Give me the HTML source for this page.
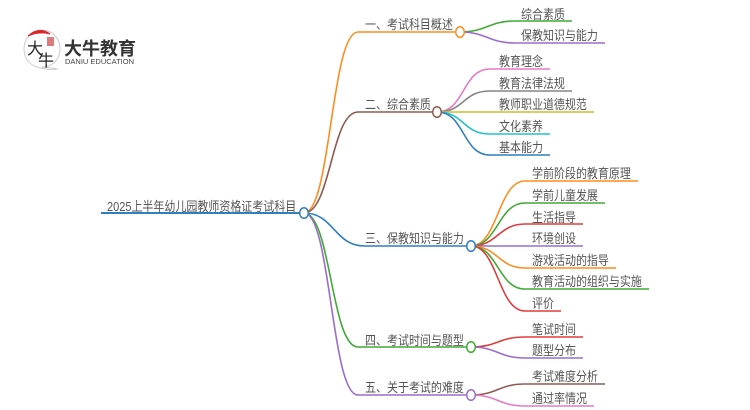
<!DOCTYPE html>
<html><head><meta charset="utf-8"><style>
html,body{margin:0;padding:0;background:#fff}
svg{display:block}
text{font-family:"Liberation Sans","Noto Sans CJK SC",sans-serif;font-size:11px;fill:#555}
path{fill:none;stroke-width:1.6}
ellipse{fill:#fff;stroke-width:1.5}
</style></head><body>
<svg width="750" height="410" viewBox="0 0 750 410" xmlns="http://www.w3.org/2000/svg">
<!-- logo -->
<path d="M37 67 C28 64 24 57 24 49 C24 38 32 30 42 30 C52 30 60 38 60 49 C60 60 52 67 42 67 C46 68 52 67 57 69 C52 70 44 69 37 67 Z" style="stroke:#ccc;stroke-width:1"/>
<path d="M28 36 Q39 26 50 34 Q39 31 28 36 Z" style="fill:#d9262c;stroke:#d9262c;stroke-width:1"/>
<text x="27" y="54" style="font-size:16px;fill:#222">大</text>
<text x="38" y="66" style="font-size:16px;fill:#222">牛</text>
<rect x="47" y="37" width="7" height="9" fill="#dd7a7a"/>
<text x="64" y="55" style="font-size:18px;font-weight:bold;fill:#333">大牛教育</text>
<text x="65" y="64" textLength="69" style="font-size:7.5px;fill:#444">DANIU EDUCATION</text>

<!-- connectors root -->
<path d="M101 213H304" style="stroke:#2f7fc1;stroke-width:2"/>
<path d="M304 213C331 213 331 32 358 32H460" style="stroke:#ff8c1f"/>
<path d="M304 213C331 213 331 112 358 112H437" style="stroke:#8e5a4f"/>
<path d="M304 213C334 213 334 246 365 246H471" style="stroke:#2f7fc1"/>
<path d="M304 213C331 213 331 347 358 347H471" style="stroke:#3fab35"/>
<path d="M304 213C331 213 331 395 358 395H471" style="stroke:#9c6cc9"/>
<!-- branch 1 -->
<path d="M460 32C487 32 488 21 515 21H572" style="stroke:#3fab35"/>
<path d="M460 32C487 32 488 43 515 43H605" style="stroke:#9c6cc9"/>
<!-- branch 2 -->
<path d="M437 112C465 112 462 69 490 69H550" style="stroke:#e878c8"/>
<path d="M437 112C465 112 462 91 490 91H572" style="stroke:#858585"/>
<path d="M437 112H594" style="stroke:#c4c42c"/>
<path d="M437 112C465 112 462 134 490 134H550" style="stroke:#22c0d2"/>
<path d="M437 112C465 112 462 155 490 155H550" style="stroke:#2f7fc1"/>
<!-- branch 3 -->
<path d="M471 246C498 246 498 181 525 181H638" style="stroke:#ff8c1f"/>
<path d="M471 246C498 246 498 203 525 203H605" style="stroke:#3fab35"/>
<path d="M471 246C498 246 498 224 525 224H583" style="stroke:#e03c3c"/>
<path d="M471 246H583" style="stroke:#9c6cc9"/>
<path d="M471 246C498 246 498 268 525 268H616" style="stroke:#ff8c1f"/>
<path d="M471 246C498 246 498 289 525 289H649" style="stroke:#3fab35"/>
<path d="M471 246C498 246 498 311 525 311H561" style="stroke:#e03c3c"/>
<!-- branch 4 -->
<path d="M471 347C498 347 498 337 525 337H583" style="stroke:#e03c3c"/>
<path d="M471 347C498 347 498 358 525 358H583" style="stroke:#9c6cc9"/>
<!-- branch 5 -->
<path d="M471 395C498 395 498 384 525 384H605" style="stroke:#8e5a4f"/>
<path d="M471 395C498 395 498 406 525 406H594" style="stroke:#e878c8"/>

<ellipse cx="304" cy="213" rx="4.3" ry="5.3" style="stroke:#2f7fc1"/>
<ellipse cx="460" cy="32" rx="4.3" ry="5.3" style="stroke:#ff8c1f"/>
<ellipse cx="437" cy="112" rx="4.3" ry="5.3" style="stroke:#8e5a4f"/>
<ellipse cx="471" cy="246" rx="4.3" ry="5.3" style="stroke:#2f7fc1"/>
<ellipse cx="471" cy="347" rx="4.3" ry="5.3" style="stroke:#3fab35"/>
<ellipse cx="471" cy="395" rx="4.3" ry="5.3" style="stroke:#9c6cc9"/>

<text transform="translate(107 211) scale(1 1.18)">2025上半年幼儿园教师资格证考试科目</text>
<text transform="translate(365 29) scale(1 1.18)">一、考试科目概述</text>
<text transform="translate(365 109) scale(1 1.18)">二、综合素质</text>
<text transform="translate(365 243) scale(1 1.18)">三、保教知识与能力</text>
<text transform="translate(365 345) scale(1 1.18)">四、考试时间与题型</text>
<text transform="translate(365 392) scale(1 1.18)">五、关于考试的难度</text>

<text transform="translate(521 19) scale(1 1.18)">综合素质</text>
<text transform="translate(521 40) scale(1 1.18)">保教知识与能力</text>

<text transform="translate(499 66) scale(1 1.18)">教育理念</text>
<text transform="translate(499 88) scale(1 1.18)">教育法律法规</text>
<text transform="translate(499 109) scale(1 1.18)">教师职业道德规范</text>
<text transform="translate(499 131) scale(1 1.18)">文化素养</text>
<text transform="translate(499 152) scale(1 1.18)">基本能力</text>

<text transform="translate(532 178) scale(1 1.18)">学前阶段的教育原理</text>
<text transform="translate(532 200) scale(1 1.18)">学前儿童发展</text>
<text transform="translate(532 222) scale(1 1.18)">生活指导</text>
<text transform="translate(532 243) scale(1 1.18)">环境创设</text>
<text transform="translate(532 265) scale(1 1.18)">游戏活动的指导</text>
<text transform="translate(532 286) scale(1 1.18)">教育活动的组织与实施</text>
<text transform="translate(532 308) scale(1 1.18)">评价</text>

<text transform="translate(532 334) scale(1 1.18)">笔试时间</text>
<text transform="translate(532 355) scale(1 1.18)">题型分布</text>
<text transform="translate(532 381) scale(1 1.18)">考试难度分析</text>
<text transform="translate(532 403) scale(1 1.18)">通过率情况</text>
</svg>
</body></html>
